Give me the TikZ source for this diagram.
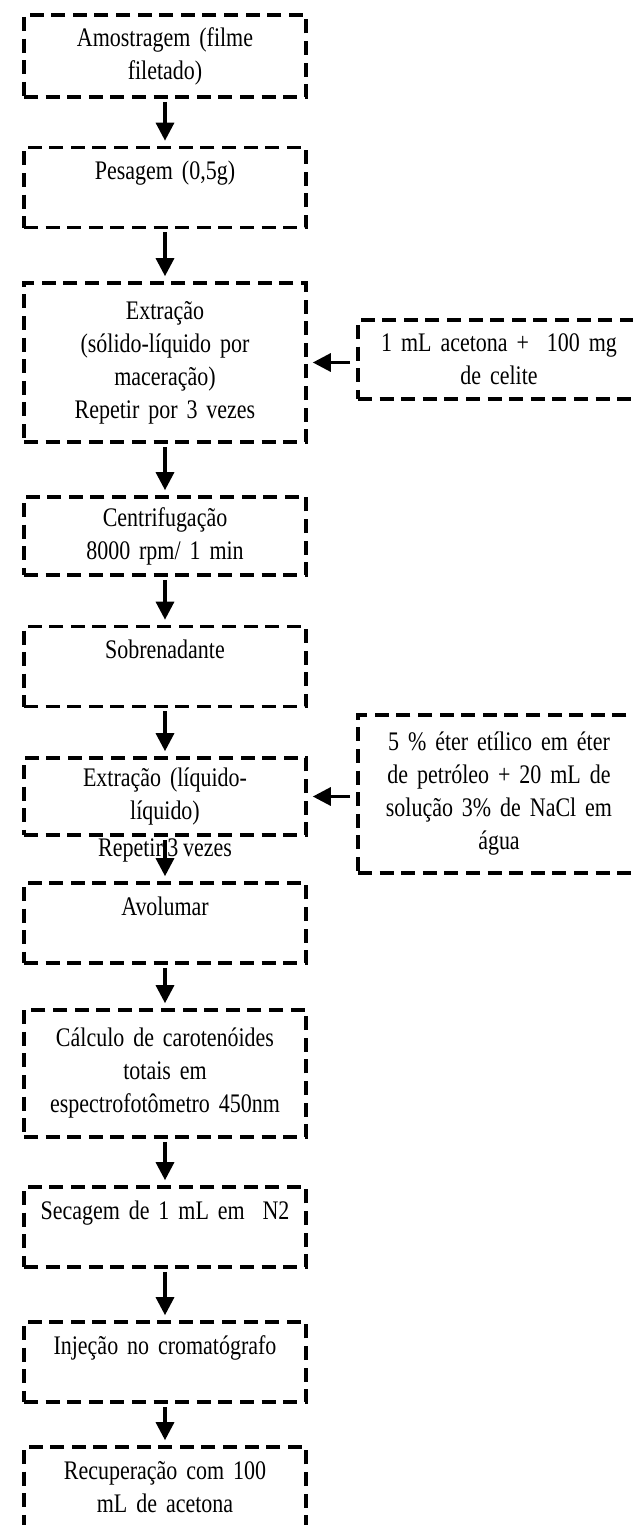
\documentclass[tikz,border=0pt]{standalone}
\usepackage{fontspec}
\setmainfont{Liberation Serif}[FakeStretch=0.82]
\usetikzlibrary{arrows.meta}
\newcommand{\flowfont}{\fontsize{13.4}{16.5}\selectfont\spaceskip 2.3pt plus 1pt minus 0.5pt\relax}

\begin{document}
\begin{tikzpicture}[x=0.5pt,y=-0.5pt,>={Triangle[length=9pt,width=9pt]},font=\flowfont,
  box/.style={draw,line width=1.8pt,dash pattern=on 7pt off 3.8pt,text width=136pt,align=center,minimum width=141pt,inner sep=2pt},
  topbox/.style={box,minimum height=40pt,text height=14pt,text depth=22pt},
  flow/.style={->,line width=1.6pt,shorten >=2.5pt,shorten <=1.5pt}]
\useasboundingbox (0,0) rectangle (632,1525);
% main column
\node[box,minimum height=41pt] (b1) at (165,56) {Amostragem (filme\\filetado)};
\node[topbox] (b2) at (165,187.5) {Pesagem (0,5g)};
\node[box,minimum height=79.5pt] (b3) at (165,362.5) {Extração\\(sólido-líquido por\\maceração)\\Repetir por 3 vezes};
\node[box,minimum height=39pt] (b4) at (165,536) {Centrifugação\\8000 rpm/ 1 min};
\node[topbox] (b5) at (165,666.5) {Sobrenadante};
\node[box,minimum height=38.5pt] (b6) at (165,796.5) {Extração (líquido-\\líquido)};
\node (rep) at (165,850) {Repetir 3 vezes};
\node[topbox] (b7) at (165,923) {Avolumar};
\node[box,minimum height=63.5pt] (b8) at (165,1073.5) {Cálculo de carotenóides\\totais em\\espectrofotômetro 450nm};
\node[topbox] (b9) at (165,1227) {Secagem de 1 mL em \ N2};
\node[topbox] (b10) at (165,1362) {Injeção no cromatógrafo};
\node[box,minimum height=40.5pt] (b11) at (165,1487.5) {Recuperação com 100\\mL de acetona};
% reagents
\node[box,minimum height=39.5pt] (r1) at (499,359.5) {1 mL acetona + \ 100 mg\\de celite};
\node[box,minimum height=79pt] (r2) at (499,794) {5 \% éter etílico em éter\\de petróleo + 20 mL de\\solução 3\% de NaCl em\\água};
% arrows
\foreach \a/\b in {b1/b2,b2/b3,b3/b4,b4/b5,b5/b6,b6/b7,b7/b8,b8/b9,b9/b10,b10/b11}
  \draw[flow] (\a) -- (\b);
\draw[flow,shorten <=3pt] (r1.west |- b3) -- (b3.east);
\draw[flow,shorten <=3pt] (r2.west |- b6) -- (b6.east);
\end{tikzpicture}
\end{document}
